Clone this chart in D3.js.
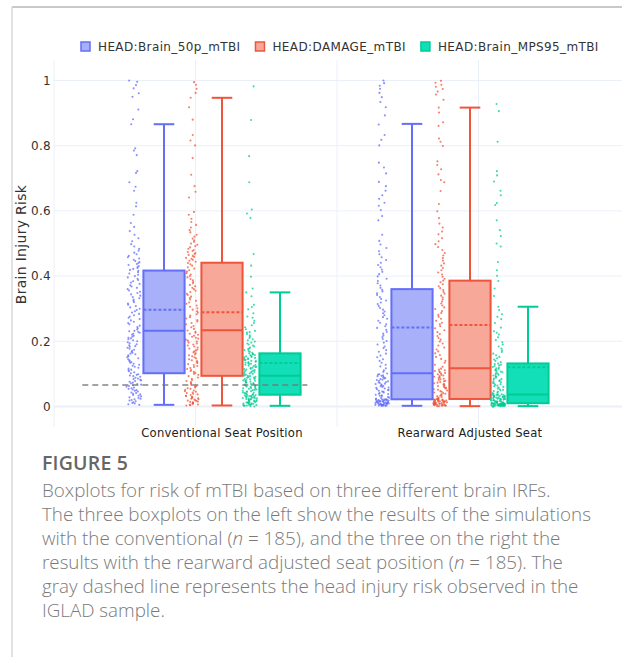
<!DOCTYPE html>
<html>
<head>
<meta charset="utf-8">
<script src="https://cdn.jsdelivr.net/npm/d3@7"></script>
<style>
  body { margin: 0; background: #fff; }
  svg { display: block; }
</style>
</head>
<body>
<svg id="chart" width="622" height="657"></svg>
<script>
// ---- data ----
const categories = ['Conventional Seat Position', 'Rearward Adjusted Seat'];
const seriesNames = ['HEAD:Brain_50p_mTBI', 'HEAD:DAMAGE_mTBI', 'HEAD:Brain_MPS95_mTBI'];
const yTicks = [0, 0.2, 0.4, 0.6, 0.8, 1];

// box statistics, [series][category]
const lowerFence = [[0.005, 0.002], [0.003, 0.001], [0.002, 0.001]];
const q1 = [[0.102, 0.022], [0.094, 0.023], [0.036, 0.010]];
const median = [[0.232, 0.102], [0.234, 0.117], [0.094, 0.037]];
const q3 = [[0.417, 0.360], [0.441, 0.386], [0.163, 0.132]];
const upperFence = [[0.866, 0.867], [0.947, 0.917], [0.350, 0.306]];
const meanVal = [[0.297, 0.242], [0.289, 0.250], [0.133, 0.120]];

// observed head injury risk in IGLAD sample (gray dashed line)
const igladRisk = 0.066;

// simulation results (n = 185 each), estimated from the scatter
const conv50p = [0.005,0.007,0.009,0.011,0.013,0.016,0.018,0.020,0.022,0.024,0.026,0.028,0.031,0.033,0.035,0.037,0.039,0.041,0.043,0.046,
  0.048,0.050,0.052,0.054,0.056,0.058,0.061,0.063,0.065,0.067,0.069,0.071,0.073,0.076,0.078,0.080,0.082,0.084,0.086,0.088,
  0.091,0.093,0.095,0.097,0.099,0.102,0.105,0.108,0.111,0.113,0.116,0.119,0.122,0.125,0.128,0.131,0.134,0.136,0.139,0.142,
  0.145,0.148,0.151,0.154,0.157,0.160,0.162,0.165,0.168,0.171,0.174,0.177,0.180,0.183,0.185,0.188,0.191,0.194,0.197,0.200,
  0.203,0.206,0.209,0.211,0.214,0.217,0.220,0.223,0.226,0.229,0.231,0.232,0.236,0.240,0.244,0.248,0.252,0.256,0.260,0.264,
  0.268,0.272,0.276,0.280,0.284,0.288,0.292,0.296,0.300,0.304,0.308,0.312,0.316,0.320,0.324,0.328,0.332,0.336,0.340,0.344,
  0.348,0.352,0.356,0.360,0.364,0.368,0.372,0.376,0.380,0.384,0.388,0.392,0.396,0.400,0.404,0.408,0.412,0.416,0.419,0.422,
  0.425,0.428,0.431,0.434,0.437,0.440,0.443,0.446,0.450,0.454,0.458,0.462,0.467,0.472,0.478,0.484,0.491,0.498,0.507,0.516,
  0.527,0.538,0.551,0.563,0.588,0.614,0.625,0.662,0.674,0.688,0.716,0.722,0.771,0.785,0.792,0.866,0.881,0.911,0.950,0.961,
  0.976,0.986,0.996,1.000];
const convDamage = [0.003,0.004,0.005,0.006,0.008,0.009,0.010,0.011,0.013,0.014,0.015,0.017,0.018,0.019,0.021,0.022,0.024,0.025,0.027,0.028,
  0.030,0.032,0.033,0.035,0.037,0.039,0.041,0.043,0.045,0.047,0.049,0.051,0.054,0.056,0.058,0.061,0.063,0.066,0.069,0.072,
  0.075,0.078,0.081,0.085,0.089,0.093,0.097,0.100,0.103,0.106,0.109,0.112,0.115,0.118,0.121,0.124,0.127,0.130,0.133,0.136,
  0.139,0.142,0.145,0.148,0.151,0.154,0.157,0.160,0.163,0.166,0.169,0.172,0.175,0.178,0.181,0.184,0.187,0.190,0.193,0.196,
  0.199,0.202,0.205,0.208,0.211,0.214,0.217,0.220,0.223,0.226,0.229,0.233,0.238,0.243,0.247,0.252,0.256,0.261,0.265,0.270,
  0.274,0.279,0.283,0.288,0.292,0.297,0.301,0.306,0.310,0.315,0.319,0.324,0.328,0.333,0.337,0.342,0.346,0.351,0.355,0.360,
  0.364,0.369,0.373,0.378,0.382,0.387,0.391,0.396,0.400,0.405,0.409,0.414,0.418,0.423,0.427,0.432,0.436,0.440,0.444,0.447,
  0.450,0.453,0.456,0.459,0.462,0.465,0.468,0.471,0.474,0.477,0.480,0.484,0.488,0.492,0.496,0.500,0.505,0.510,0.515,0.521,
  0.527,0.534,0.541,0.549,0.557,0.566,0.576,0.588,0.597,0.641,0.659,0.676,0.711,0.762,0.801,0.816,0.833,0.880,0.918,0.947,
  0.962,0.975,0.987,0.995];
const convMps95 = [0.000,0.001,0.002,0.002,0.003,0.004,0.005,0.005,0.006,0.007,0.008,0.009,0.009,0.010,0.011,0.012,0.013,0.013,0.014,0.015,
  0.016,0.017,0.018,0.018,0.019,0.020,0.021,0.022,0.022,0.023,0.024,0.025,0.026,0.026,0.027,0.028,0.029,0.030,0.030,0.031,
  0.032,0.033,0.034,0.034,0.035,0.036,0.037,0.038,0.040,0.041,0.042,0.043,0.045,0.046,0.047,0.048,0.050,0.051,0.052,0.054,
  0.055,0.056,0.057,0.059,0.060,0.061,0.062,0.064,0.065,0.066,0.067,0.069,0.070,0.071,0.073,0.074,0.075,0.076,0.078,0.079,
  0.080,0.081,0.083,0.084,0.085,0.086,0.088,0.089,0.090,0.091,0.093,0.094,0.095,0.097,0.098,0.100,0.101,0.103,0.104,0.106,
  0.107,0.109,0.110,0.112,0.113,0.115,0.116,0.118,0.119,0.121,0.122,0.124,0.125,0.127,0.128,0.130,0.131,0.133,0.134,0.136,
  0.137,0.139,0.140,0.142,0.143,0.145,0.146,0.148,0.149,0.151,0.152,0.154,0.155,0.157,0.158,0.160,0.161,0.163,0.165,0.168,
  0.170,0.173,0.176,0.178,0.181,0.184,0.187,0.190,0.193,0.196,0.199,0.203,0.206,0.210,0.214,0.218,0.222,0.227,0.228,0.232,
  0.237,0.243,0.249,0.256,0.263,0.272,0.276,0.286,0.298,0.305,0.312,0.338,0.350,0.362,0.398,0.432,0.468,0.578,0.592,0.604,
  0.688,0.768,0.879,0.982];
const rear50p = [0.002,0.002,0.002,0.003,0.003,0.003,0.004,0.004,0.004,0.005,0.005,0.006,0.006,0.007,0.007,0.008,0.008,0.009,0.009,0.010,
  0.010,0.011,0.011,0.012,0.012,0.013,0.013,0.014,0.014,0.015,0.015,0.016,0.016,0.017,0.017,0.018,0.018,0.019,0.019,0.020,
  0.020,0.021,0.021,0.022,0.022,0.022,0.024,0.026,0.027,0.029,0.031,0.033,0.034,0.036,0.038,0.039,0.041,0.043,0.045,0.046,
  0.048,0.050,0.051,0.053,0.055,0.057,0.058,0.060,0.062,0.063,0.065,0.067,0.069,0.070,0.072,0.074,0.075,0.077,0.079,0.081,
  0.082,0.084,0.086,0.087,0.089,0.091,0.093,0.094,0.096,0.098,0.099,0.101,0.106,0.111,0.117,0.123,0.128,0.134,0.140,0.145,
  0.151,0.156,0.162,0.168,0.173,0.179,0.184,0.190,0.196,0.201,0.207,0.213,0.218,0.224,0.229,0.235,0.241,0.246,0.252,0.257,
  0.263,0.269,0.274,0.280,0.286,0.291,0.297,0.302,0.308,0.314,0.319,0.325,0.330,0.336,0.342,0.347,0.353,0.358,0.364,0.371,
  0.378,0.385,0.392,0.399,0.406,0.413,0.420,0.427,0.434,0.441,0.449,0.458,0.467,0.476,0.486,0.497,0.508,0.527,0.571,0.584,
  0.603,0.616,0.625,0.637,0.648,0.662,0.676,0.689,0.715,0.733,0.748,0.801,0.818,0.833,0.865,0.893,0.918,0.934,0.949,0.962,
  0.975,0.984,0.992,1.000];
const rearDamage = [0.001,0.001,0.002,0.002,0.003,0.003,0.004,0.004,0.005,0.005,0.006,0.006,0.007,0.007,0.008,0.008,0.009,0.009,0.010,0.010,
  0.011,0.011,0.012,0.012,0.013,0.013,0.014,0.014,0.015,0.015,0.016,0.016,0.017,0.017,0.018,0.018,0.019,0.019,0.020,0.020,
  0.021,0.021,0.022,0.022,0.023,0.023,0.025,0.027,0.029,0.031,0.033,0.035,0.037,0.039,0.041,0.043,0.045,0.047,0.049,0.051,
  0.053,0.055,0.057,0.059,0.061,0.063,0.065,0.067,0.069,0.071,0.073,0.075,0.077,0.079,0.081,0.083,0.085,0.087,0.089,0.091,
  0.093,0.095,0.097,0.099,0.101,0.103,0.105,0.107,0.109,0.111,0.113,0.116,0.122,0.128,0.134,0.140,0.146,0.152,0.158,0.163,
  0.169,0.175,0.181,0.187,0.193,0.199,0.205,0.210,0.216,0.222,0.228,0.234,0.240,0.246,0.252,0.257,0.263,0.269,0.275,0.281,
  0.287,0.293,0.299,0.304,0.310,0.316,0.322,0.328,0.334,0.340,0.346,0.351,0.357,0.363,0.369,0.375,0.381,0.386,0.392,0.398,
  0.405,0.411,0.418,0.425,0.432,0.439,0.447,0.455,0.463,0.471,0.480,0.489,0.498,0.507,0.516,0.528,0.537,0.549,0.561,0.578,
  0.599,0.621,0.661,0.688,0.695,0.712,0.728,0.741,0.752,0.799,0.812,0.822,0.861,0.872,0.902,0.917,0.941,0.957,0.966,0.974,
  0.981,0.987,0.993,0.999];
const rearMps95 = [0.000,0.000,0.001,0.001,0.001,0.001,0.002,0.002,0.002,0.002,0.003,0.003,0.003,0.003,0.004,0.004,0.004,0.004,0.005,0.005,
  0.005,0.005,0.005,0.006,0.006,0.006,0.006,0.007,0.007,0.007,0.007,0.007,0.008,0.008,0.008,0.008,0.008,0.009,0.009,0.009,
  0.009,0.009,0.010,0.010,0.010,0.010,0.011,0.011,0.012,0.012,0.013,0.014,0.014,0.015,0.015,0.016,0.017,0.017,0.018,0.018,
  0.019,0.020,0.020,0.021,0.021,0.022,0.023,0.023,0.024,0.024,0.025,0.026,0.026,0.027,0.027,0.028,0.029,0.029,0.030,0.030,
  0.031,0.032,0.032,0.033,0.033,0.034,0.035,0.035,0.036,0.036,0.037,0.037,0.039,0.041,0.043,0.045,0.047,0.049,0.051,0.053,
  0.055,0.058,0.060,0.062,0.064,0.066,0.068,0.070,0.072,0.074,0.076,0.078,0.080,0.082,0.084,0.086,0.088,0.091,0.093,0.095,
  0.097,0.099,0.101,0.103,0.105,0.107,0.109,0.111,0.113,0.115,0.117,0.119,0.121,0.124,0.126,0.128,0.130,0.132,0.136,0.140,
  0.144,0.148,0.152,0.157,0.162,0.167,0.172,0.178,0.184,0.190,0.197,0.204,0.212,0.221,0.226,0.231,0.242,0.256,0.268,0.275,
  0.283,0.296,0.306,0.339,0.362,0.385,0.401,0.418,0.443,0.491,0.500,0.523,0.541,0.571,0.618,0.624,0.648,0.662,0.690,0.709,
  0.722,0.812,0.906,0.928];

// [series][category]
const points = [[conv50p, rear50p], [convDamage, rearDamage], [convMps95, rearMps95]];

const lineColours = ['#636efa', '#ef553b', '#00cc96'];
const fillColours = ['#a8b0f9', '#f7a898', '#12dfb8'];

// ---- layout ----
var svg = d3.select('#chart');
var plotTop = 60, plotBottom = 427, plotLeft = 54, plotRight = 622;
var axisFont = 'DejaVu Sans, Verdana, sans-serif';

var y = d3.scaleLinear().domain([-0.063, 1.063]).range([plotBottom, plotTop]);
var xGrid = d3.scaleLinear().domain([0, 4]).range([plotLeft, 620]);
var xCat = d3.scaleBand().domain(categories).range([98, 594]);
var xSeries = d3.scaleBand().domain(seriesNames).range([-87, 87]);
var boxW = xSeries.bandwidth() * 0.71;
var jitterShift = -30;

// frame of the figure panel
svg.append('line').attr('x1', 12).attr('x2', 622).attr('y1', 7).attr('y2', 7)
  .style('stroke', '#c9c9c9').style('stroke-width', 2);
svg.append('line').attr('x1', 12).attr('x2', 12).attr('y1', 7).attr('y2', 657)
  .style('stroke', '#cfcfcf').style('stroke-width', 1.2);

// grid
var grid = svg.append('g');
grid.selectAll('line.vgrid').data([0, 1, 2, 3]).enter().append('line')
  .attr('class', 'vgrid')
  .attr('x1', d => xGrid(d)).attr('x2', d => xGrid(d))
  .attr('y1', plotTop).attr('y2', plotBottom)
  .style('stroke', '#ebf0f8').style('stroke-width', 1);
grid.selectAll('line.hgrid').data(yTicks).enter().append('line')
  .attr('class', 'hgrid')
  .attr('x1', plotLeft).attr('x2', plotRight)
  .attr('y1', d => y(d)).attr('y2', d => y(d))
  .style('stroke', '#ebf0f8').style('stroke-width', d => d === 0 ? 2 : 1);

// y axis
var yAxisGroup = svg.append('g').attr('transform', 'translate(' + plotLeft + ',0)');
d3.axisLeft(y).tickValues(yTicks).tickSize(0).tickPadding(3).tickFormat(d3.format('~g'))(yAxisGroup);
yAxisGroup.select('.domain').remove();
yAxisGroup.selectAll('text').style('font-family', axisFont)
  .style('font-size', '12px').style('letter-spacing', '0.3px').style('fill', '#333');

svg.append('text')
  .attr('transform', 'translate(26,' + ((plotTop + plotBottom) / 2 + 1) + ') rotate(-90)')
  .style('text-anchor', 'middle')
  .style('font-family', axisFont)
  .style('font-size', '14px').style('letter-spacing', '0.3px').style('fill', '#333')
  .text('Brain Injury Risk');

// x axis (category labels)
var xAxisGroup = svg.append('g').attr('transform', 'translate(0,' + plotBottom + ')');
d3.axisBottom(xCat).tickSize(0).tickPadding(2)(xAxisGroup);
xAxisGroup.select('.domain').remove();
xAxisGroup.selectAll('text').style('font-family', axisFont)
  .style('font-size', '11.6px').style('letter-spacing', '0.25px').style('fill', '#222');

// deterministic jitter offset in [-1, 1] (presentation only)
function jitter(i, k) {
  var v = Math.sin((i + 1) * 12.9898 + k * 78.233) * 43758.5453;
  return (v - Math.floor(v)) * 2 - 1;
}

// boxes + jittered points
var boxes = svg.append('g');
seriesNames.forEach(function (name, s) {
  categories.forEach(function (cat, c) {
    var cx = xCat(cat) + xCat.bandwidth() / 2 + xSeries(name) + xSeries.bandwidth() / 2;
    var g = boxes.append('g');
    var col = lineColours[s];

    // whiskers
    g.append('line').attr('x1', cx).attr('x2', cx)
      .attr('y1', y(q3[s][c])).attr('y2', y(upperFence[s][c]))
      .style('stroke', col).style('stroke-width', 2);
    g.append('line').attr('x1', cx).attr('x2', cx)
      .attr('y1', y(q1[s][c])).attr('y2', y(lowerFence[s][c]))
      .style('stroke', col).style('stroke-width', 2);
    [upperFence[s][c], lowerFence[s][c]].forEach(function (v) {
      g.append('line').attr('x1', cx - boxW / 4).attr('x2', cx + boxW / 4)
        .attr('y1', y(v)).attr('y2', y(v))
        .style('stroke', col).style('stroke-width', 2);
    });

    g.append('rect')
      .attr('x', cx - boxW / 2).attr('width', boxW)
      .attr('y', y(q3[s][c])).attr('height', y(q1[s][c]) - y(q3[s][c]))
      .style('fill', fillColours[s]).style('stroke', col).style('stroke-width', 2);
    g.append('line').attr('x1', cx - boxW / 2).attr('x2', cx + boxW / 2)
      .attr('y1', y(median[s][c])).attr('y2', y(median[s][c]))
      .style('stroke', col).style('stroke-width', 2);
    g.append('line').attr('x1', cx - boxW / 2).attr('x2', cx + boxW / 2)
      .attr('y1', y(meanVal[s][c])).attr('y2', y(meanVal[s][c]))
      .style('stroke', col).style('stroke-width', 2).style('stroke-dasharray', '3,2');

    // points, spread a bit wider where they are dense
    var vals = points[s][c];
    var counts = vals.map(v => vals.filter(w => Math.abs(w - v) < 0.04).length);
    var maxCount = d3.max(counts);
    g.selectAll('circle').data(vals).enter().append('circle')
      .attr('cx', function (d, i) {
        var hw = 7.5 * (0.45 + 0.55 * Math.sqrt(counts[i] / maxCount));
        return cx + jitterShift + jitter(i, s * 2 + c) * hw;
      })
      .attr('cy', d => y(d))
      .attr('r', 1.05)
      .style('fill', col).style('opacity', 0.75);
  });
});

// IGLAD reference line
svg.append('line')
  .attr('x1', xGrid(0.2)).attr('x2', xGrid(1.79))
  .attr('y1', y(igladRisk)).attr('y2', y(igladRisk))
  .style('stroke', '#777').style('stroke-width', 1.6).style('stroke-dasharray', '6,4')
  .style('opacity', 0.9);

// legend
var legend = svg.append('g');
var lx = 81;
seriesNames.forEach(function (name, s) {
  legend.append('rect').attr('x', lx).attr('y', 42).attr('width', 9).attr('height', 9)
    .style('fill', fillColours[s]).style('stroke', lineColours[s]).style('stroke-width', 1.5);
  var t = legend.append('text').attr('x', lx + 17).attr('y', 51)
    .style('font-family', axisFont)
    .style('font-size', '12px').style('letter-spacing', '0.38px').style('fill', '#333')
    .text(name);
  lx = lx + 17 + t.node().getComputedTextLength() + 15;
});

// caption
var cap = svg.append('g').style('font-family', '"Open Sans", Lato, sans-serif');
cap.append('text').attr('x', 42).attr('y', 470)
  .style('font-size', '19.5px').style('font-weight', 600).style('letter-spacing', '0.2px')
  .style('fill', '#666')
  .text('FIGURE 5');
var capLines = [
  'Boxplots for risk of mTBI based on three different brain IRFs.',
  'The three boxplots on the left show the results of the simulations',
  ['with the conventional (', 'n', ' = 185), and the three on the right the'],
  ['results with the rearward adjusted seat position (', 'n', ' = 185). The'],
  'gray dashed line represents the head injury risk observed in the',
  'IGLAD sample.'
];
capLines.forEach(function (ln, i) {
  var t = cap.append('text').attr('x', 42).attr('y', 497 + i * 24)
    .style('font-size', '18.8px').style('font-weight', 300).style('fill', '#7a7a7a');
  if (typeof ln === 'string') {
    t.text(ln);
  } else {
    ln.forEach(function (part, k) {
      t.append('tspan').style('font-style', k === 1 ? 'italic' : 'normal').text(part);
    });
  }
});
</script>
</body>
</html>
